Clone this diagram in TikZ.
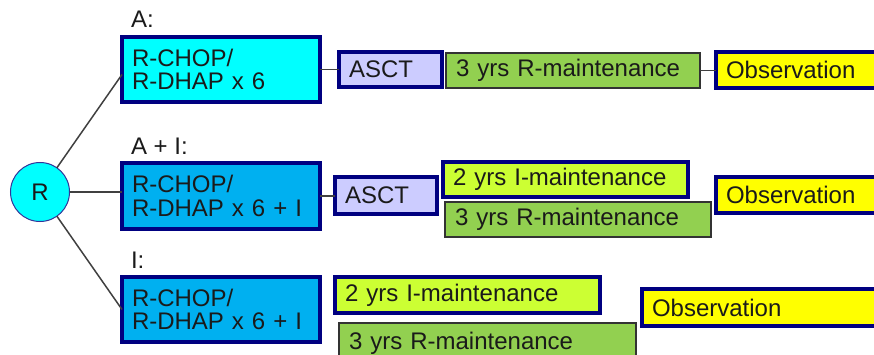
\documentclass[tikz,border=0pt]{standalone}
\usepackage{fontspec}
\setmainfont{Liberation Sans}
\definecolor{navyc}{HTML}{000080}
\definecolor{cyanc}{HTML}{00FFFF}
\definecolor{bluec}{HTML}{00B0F0}
\definecolor{lavc}{HTML}{CCCCFF}
\definecolor{greenc}{HTML}{92D050}
\definecolor{chartc}{HTML}{CCFF33}
\definecolor{yelc}{HTML}{FFFF00}
\definecolor{gbord}{HTML}{333333}
\definecolor{lgray}{HTML}{404040}
\definecolor{txt}{HTML}{1A1A1A}
\definecolor{cbord}{HTML}{333399}
\newcommand\fsz{\fontsize{24}{23.5}\selectfont}
\begin{document}
\begin{tikzpicture}[x=1pt,y=-1pt,
  every node/.style={outer sep=0pt},
  bx/.style={anchor=north west, draw=navyc, line width=3.3pt, inner xsep=10pt, inner ysep=0pt, align=left, font=\fsz, text=txt},
  bxg/.style={bx, draw=gbord, line width=1.8pt},
  conn/.style={draw=lgray, line width=1.5pt},
  lab/.style={anchor=base west, inner sep=0pt, font=\fsz, text=txt}]
\useasboundingbox (0,0) rectangle (874,355);
\clip (0,0) rectangle (874,355);

% circle
\node[circle, draw=cbord, fill=cyanc, minimum size=59pt, inner sep=0pt, line width=1pt, font=\fsz, text=txt] (R) at (40,192) {R};

% labels
\node[lab] (LA) at (131,28) {A:};
\node[lab] (LAI) at (131,155) {A + I:};
\node[lab] (LI) at (131,268) {I:};

% row 1
\node[bx, fill=cyanc, minimum width=198pt, minimum height=65pt, text width=178pt] (A1) at (122,37) {R-CHOP/\\R-DHAP x 6};
\node[bx, fill=lavc, minimum width=103pt, minimum height=35pt, text width=83pt] (S1) at (339,52) {ASCT};
\node[bxg, fill=greenc, minimum width=254pt, minimum height=35pt, text width=234pt] (RM1) at (446,53) {3 yrs R-maintenance};
\node[bx, fill=yelc, minimum width=184pt, minimum height=36pt, text width=164pt] (O1) at (716,52) {Observation};

% row 2
\node[bx, fill=bluec, minimum width=198pt, minimum height=66pt, text width=178pt] (A2) at (122,163) {R-CHOP/\\R-DHAP x 6 + I};
\node[bx, fill=lavc, minimum width=102pt, minimum height=37pt, text width=82pt] (S2) at (335,177) {ASCT};
\node[bx, fill=chartc, minimum width=245pt, minimum height=35pt, text width=225pt] (IM2) at (443,162) {2 yrs I-maintenance};
\node[bxg, fill=greenc, minimum width=266pt, minimum height=35pt, text width=246pt] (RM2) at (445,202) {3 yrs R-maintenance};
\node[bx, fill=yelc, minimum width=184pt, minimum height=36pt, text width=164pt] (O2) at (716,177) {Observation};

% row 3
\node[bx, fill=bluec, minimum width=198pt, minimum height=65pt, text width=178pt] (A3) at (122,277) {R-CHOP/\\R-DHAP x 6 + I};
\node[bx, fill=chartc, minimum width=265pt, minimum height=36pt, text width=245pt] (IM3) at (335,277) {2 yrs I-maintenance};
\node[bxg, fill=greenc, minimum width=297pt, minimum height=40pt, text width=277pt] (RM3) at (339,323) {3 yrs R-maintenance};
\node[bx, fill=yelc, minimum width=250pt, minimum height=37pt, text width=230pt] (O3) at (642,289) {Observation};

% connectors
\draw[conn] (R) -- ([yshift=-5pt]A1.west);
\draw[conn] (R.east) -- (R.east -| A2.west);
\draw[conn] (R) -- (A3.west);
\draw[conn] (A1.east) -- (A1.east -| S1.west);
\draw[conn] (RM1.east) -- (RM1.east -| O1.west);
\draw[conn] (A2.east) -- (A2.east -| S2.west);
\end{tikzpicture}
\end{document}
